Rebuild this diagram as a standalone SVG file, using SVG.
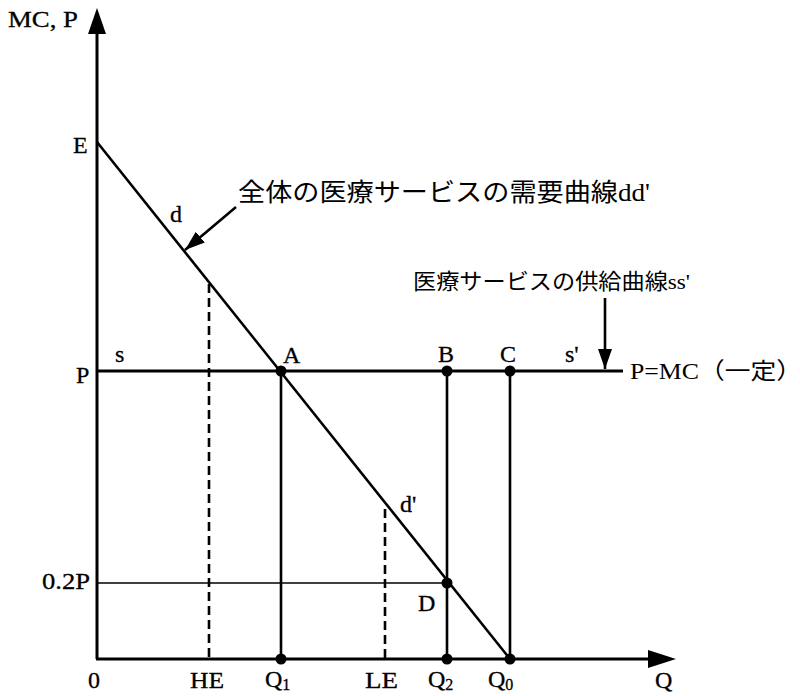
<svg xmlns="http://www.w3.org/2000/svg" width="800" height="696" viewBox="0 0 800 696">
<style>
.t{font-family:"Liberation Serif","Noto Sans CJK JP",serif;font-size:24px;fill:#000;stroke:#000;stroke-width:0.3}
.j{font-family:"Liberation Serif","Noto Sans CJK JP",serif;fill:#000}
.ax{stroke:#000;stroke-width:3;fill:none}
.ln{stroke:#000;stroke-width:2.6;fill:none}
.thin{stroke:#000;stroke-width:1.5;fill:none}
.dash{stroke:#000;stroke-width:2.6;fill:none;stroke-dasharray:9,5}
.dot{fill:#000}
.sub{font-size:16px}
</style>
<defs>
<marker id="sa" viewBox="0 0 20 14" refX="20" refY="7" markerWidth="20" markerHeight="14" orient="auto" markerUnits="userSpaceOnUse">
<path d="M0,0 L20,7 L0,14 Z" fill="#000"/>
</marker>
</defs>
<rect width="800" height="696" fill="#fff"/>
<g id="axes">
<line class="ax" x1="97" y1="30" x2="97" y2="659"/>
<line class="ax" x1="96" y1="659" x2="650" y2="659"/>
<path d="M97,8 L106,34 L88,34 Z" fill="#000"/>
<path d="M676,659 L648,650 L648,668 Z" fill="#000"/>
</g>
<g id="connectors">
<line id="demand" class="ln" x1="97" y1="142" x2="510" y2="659"/>
<line id="supply" class="ax" x1="97" y1="371" x2="623" y2="371"/>
<line class="thin" x1="97" y1="583" x2="447" y2="583"/>
<line class="ln" x1="281" y1="371" x2="281" y2="659"/>
<line class="ln" x1="447" y1="371" x2="447" y2="659"/>
<line class="ln" x1="510" y1="371" x2="510" y2="659"/>
<line class="dash" x1="209" y1="284" x2="209" y2="659"/>
<line class="dash" x1="385" y1="509" x2="385" y2="659"/>
<line class="ln" x1="236" y1="207" x2="185" y2="250" marker-end="url(#sa)"/>
<line class="ln" x1="605" y1="298" x2="605" y2="369" marker-end="url(#sa)"/>
</g>
<g id="point-A"><circle class="dot" cx="281" cy="371" r="5.5"/><text class="t" x="283" y="363">A</text></g>
<g id="point-B"><circle class="dot" cx="447" cy="371" r="5.5"/><text class="t" x="438" y="362">B</text></g>
<g id="point-C"><circle class="dot" cx="510" cy="371" r="5.5"/><text class="t" x="500" y="362">C</text></g>
<g id="point-D"><circle class="dot" cx="447" cy="583" r="5.5"/><text class="t" x="418" y="611">D</text></g>
<g id="point-Q1"><circle class="dot" cx="281" cy="659" r="5.5"/><text class="t" x="265" y="687">Q<tspan class="sub" dy="3">1</tspan></text></g>
<g id="point-Q2"><circle class="dot" cx="447" cy="659" r="5.5"/><text class="t" x="428" y="687">Q<tspan class="sub" dy="3">2</tspan></text></g>
<g id="point-Q0"><circle class="dot" cx="510" cy="659" r="5.5"/><text class="t" x="488" y="687">Q<tspan class="sub" dy="3">0</tspan></text></g>
<g id="labels">
<text class="t" x="8" y="27" font-size="25" textLength="70" lengthAdjust="spacingAndGlyphs">MC, P</text>
<text class="t" x="73" y="153">E</text>
<text class="t" x="76" y="383" font-size="25">P</text>
<text class="t" x="42" y="589" textLength="48" lengthAdjust="spacingAndGlyphs">0.2P</text>
<text class="t" x="88" y="688">0</text>
<text class="t" x="190" y="688" textLength="34" lengthAdjust="spacingAndGlyphs">HE</text>
<text class="t" x="365" y="688" textLength="33" lengthAdjust="spacingAndGlyphs">LE</text>
<text class="t" x="655" y="688">Q</text>
<text class="t" x="170" y="222">d</text>
<text class="t" x="400" y="512">d'</text>
<text class="t" x="115" y="362">s</text>
<text class="t" x="565" y="362">s'</text>
<text class="j" x="630" y="379" font-size="23" textLength="172" lengthAdjust="spacingAndGlyphs">P=MC（一定）</text>
</g>
<g id="label-demand"><text class="j" x="238" y="201" font-size="25" textLength="412" lengthAdjust="spacingAndGlyphs">全体の医療サービスの需要曲線dd'</text></g>
<g id="label-supply"><text class="j" x="413" y="289" font-size="22" textLength="277" lengthAdjust="spacingAndGlyphs">医療サービスの供給曲線ss'</text></g>
</svg>
